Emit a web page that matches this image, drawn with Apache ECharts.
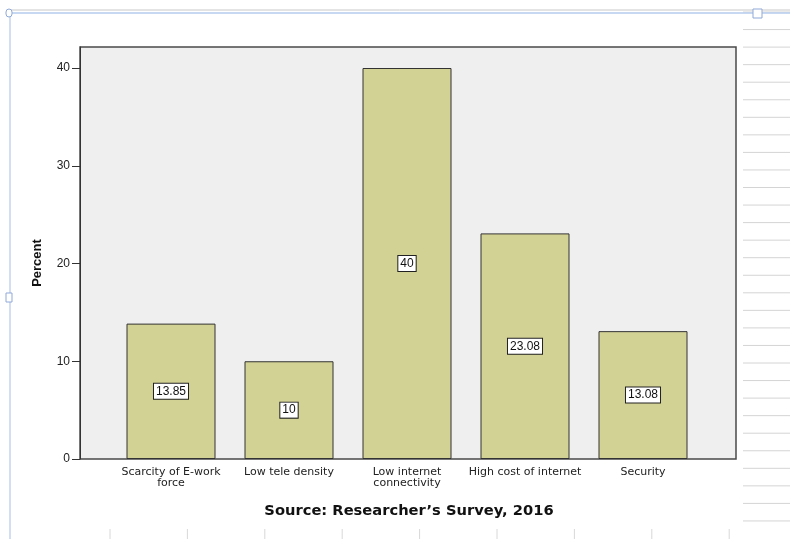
<!DOCTYPE html>
<html>
<head>
<meta charset="utf-8">
<script src="https://cdn.jsdelivr.net/npm/echarts@6/dist/echarts.min.js"></script>
<style>
  html, body { margin: 0; padding: 0; background: #fff; }
  #chart { width: 790px; height: 539px; }
</style>
</head>
<body>
<div id="chart"></div>
<script>
// chart data
const categories = [
  "Scarcity of E-work\nforce",
  "Low tele density",
  "Low internet\nconnectivity",
  "High cost of internet",
  "Security"
];
const percents = [13.85, 10, 40, 23.08, 13.08];
const yTicks = [0, 10, 20, 30, 40];

const yMax = 42.15;
const font = "'Liberation Sans', Arial, sans-serif";
const wideFont = "'DejaVu Sans', Verdana, sans-serif";

// spreadsheet-ish decorations around the chart object
const deco = [];
for (let i = 0; i < 30; i++) {
  const y = 12 + i * 17.55;
  if (y > 539) break;
  deco.push({ type: "line", shape: { x1: 743, y1: y, x2: 790, y2: y }, style: { stroke: "#d4d4d4", lineWidth: 1 }, silent: true });
}
for (let i = 0; i < 9; i++) {
  const x = 110 + i * 77.4;
  deco.push({ type: "line", shape: { x1: x, y1: 529, x2: x, y2: 539 }, style: { stroke: "#d8d8d8", lineWidth: 1 }, silent: true });
}
deco.push(
  { type: "line", shape: { x1: 9, y1: 10, x2: 790, y2: 10 }, style: { stroke: "#c8c8c8", lineWidth: 1 } },
  { type: "line", shape: { x1: 10, y1: 13, x2: 790, y2: 13 }, style: { stroke: "#b4cbee", lineWidth: 1.5 } },
  { type: "line", shape: { x1: 10, y1: 10, x2: 10, y2: 539 }, style: { stroke: "#c4d3ee", lineWidth: 1.5 } },
  { type: "rect", shape: { x: 753, y: 9, width: 9, height: 9 }, style: { fill: "#fff", stroke: "#8fa9d8", lineWidth: 1 } },
  { type: "rect", shape: { x: 6, y: 293, width: 6, height: 9 }, style: { fill: "#fff", stroke: "#8fa9d8", lineWidth: 1 } },
  { type: "rect", shape: { x: 6, y: 9, width: 6, height: 8, r: 3 }, style: { fill: "#fff", stroke: "#8fa9d8", lineWidth: 1 } },
  // y axis title
  {
    type: "text",
    x: 37,
    y: 263,
    rotation: Math.PI / 2,
    style: { text: "Percent", fontFamily: font, fontSize: 13, fontWeight: "bold", fill: "#111", align: "center", verticalAlign: "middle" }
  }
);

const option = {
  backgroundColor: "#fff",
  animation: false,
  textStyle: { fontFamily: font },
  title: {
    text: "Source: Researcher\u2019s Survey, 2016",
    left: 404,
    top: 499,
    textAlign: "center",
    textStyle: { fontFamily: wideFont, fontSize: 14.7, fontWeight: "bold", color: "#111" }
  },
  graphic: deco,
  grid: [
    // plot box with background and the y axis
    { left: 80, top: 47, right: 54, bottom: 80, show: true, backgroundColor: "#efefef", borderColor: "#4a4a4a", borderWidth: 1.5 },
    // inset grid holding the bars
    { left: 112, top: 47, width: 590, bottom: 80 }
  ],
  xAxis: [
    { gridIndex: 0, type: "category", data: categories, show: false },
    {
      gridIndex: 1,
      type: "category",
      data: categories,
      axisLine: { show: false },
      axisTick: { alignWithLabel: true, length: 6, lineStyle: { color: "#333", width: 1 } },
      axisLabel: { interval: 0, fontFamily: wideFont, fontSize: 11, color: "#222", lineHeight: 11, margin: 8 }
    }
  ],
  yAxis: [
    {
      gridIndex: 0,
      type: "value",
      min: 0,
      max: yMax,
      interval: 10,
      axisLine: { show: true, lineStyle: { color: "#333", width: 1 } },
      axisTick: { show: true, length: 8, customValues: yTicks, lineStyle: { color: "#333" } },
      axisLabel: { fontSize: 12, color: "#222", margin: 10, customValues: yTicks },
      splitLine: { show: false }
    },
    { gridIndex: 1, type: "value", min: 0, max: yMax, show: false, splitLine: { show: false } }
  ],
  series: [
    {
      type: "bar",
      xAxisIndex: 1,
      yAxisIndex: 1,
      data: percents,
      barWidth: 89,
      itemStyle: { color: "#d3d295", borderColor: "#333", borderWidth: 1 },
      label: {
        show: true,
        position: "inside",
        fontSize: 12,
        color: "#111",
        backgroundColor: "#fff",
        borderColor: "#222",
        borderWidth: 1,
        padding: [2, 2, 1, 2]
      }
    }
  ]
};

const myChart = echarts.init(document.getElementById("chart"));
myChart.setOption(option);
</script>
</body>
</html>
